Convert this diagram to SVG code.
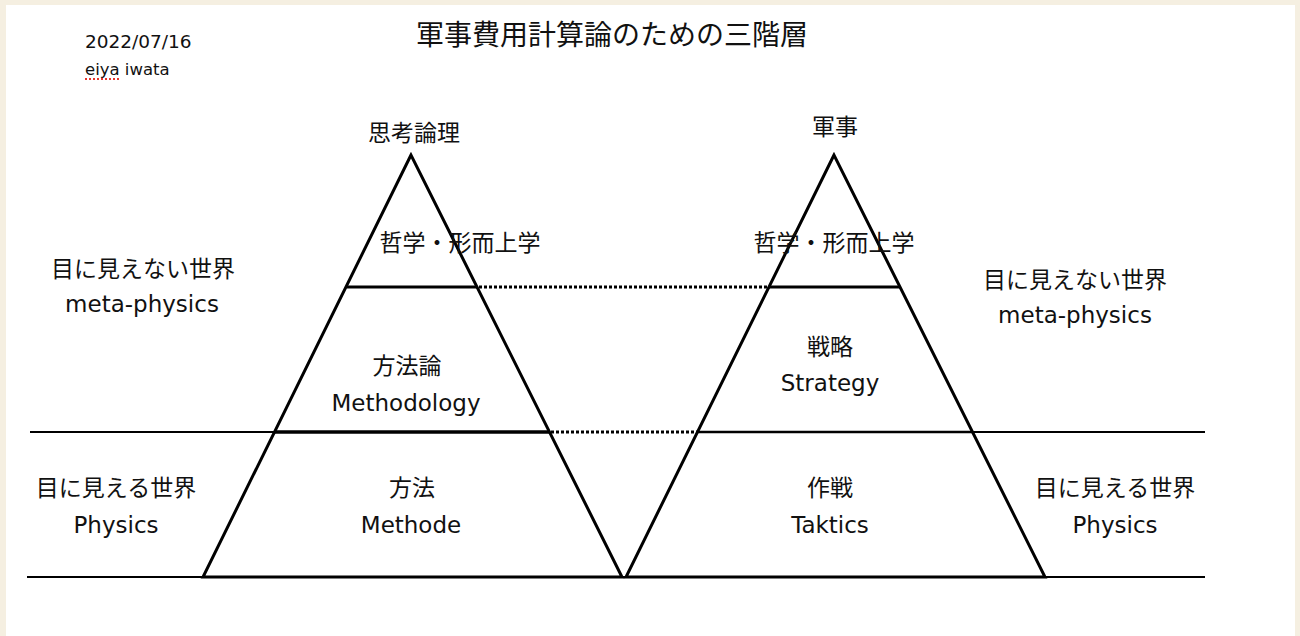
<svg xmlns="http://www.w3.org/2000/svg" width="1300" height="636" viewBox="0 0 1300 636">
<style>
.jp{font-family:"Noto Sans CJK JP","Noto Sans CJK SC",sans-serif;font-size:23px;fill:#111;text-anchor:middle}
.en{font-family:"DejaVu Sans","Liberation Sans",sans-serif;font-size:23px;fill:#111;text-anchor:middle}
.tri{fill:none;stroke:#000;stroke-width:3;stroke-linejoin:miter;stroke-miterlimit:20}
.div{stroke:#000;stroke-width:3}
.thin{stroke:#000;stroke-width:2}
.dot{stroke:#000;stroke-width:3;stroke-dasharray:3 2;fill:none}
</style>
<rect x="0" y="0" width="1300" height="636" fill="#f5efe1"/>
<rect x="6" y="5" width="1289" height="640" fill="#ffffff"/>

<g id="header">
<text x="612" y="45" class="jp" style="font-size:28px">軍事費用計算論のための三階層</text>
<text x="85" y="48" style="font-family:'DejaVu Sans','Liberation Sans',sans-serif;font-size:18.5px;fill:#111">2022/07/16</text>
<text x="85" y="75" style="font-family:'DejaVu Sans','Liberation Sans',sans-serif;font-size:16.5px;fill:#111">eiya iwata</text>
<line x1="85" y1="79" x2="120" y2="79" stroke="#e8332b" stroke-width="2" stroke-dasharray="2 2"/>
</g>

<g id="axes">
<line class="thin" x1="30" y1="432" x2="276" y2="432"/>
<line class="thin" x1="697" y1="432" x2="1205" y2="432"/>
<line class="thin" x1="27" y1="577" x2="1205" y2="577"/>
</g>

<g id="pyramid-left">
<polygon class="tri" points="411,155 203,577 622,577"/>
<line class="div" x1="347" y1="287" x2="477" y2="287"/>
<line class="div" x1="275" y1="432" x2="549" y2="432" style="stroke-width:3.5"/>
<text x="414" y="141" class="jp">思考論理</text>
<text x="460" y="251" class="jp">哲学・形而上学</text>
<text x="407" y="374" class="jp">方法論</text>
<text x="406" y="411" class="en">Methodology</text>
<text x="412" y="496" class="jp">方法</text>
<text x="411" y="533" class="en">Methode</text>
</g>

<g id="pyramid-right">
<polygon class="tri" points="834,155 626,577 1045,577"/>
<line class="div" x1="769" y1="287" x2="900" y2="287"/>
<line class="div" x1="697" y1="432" x2="972" y2="432" style="stroke-width:2.5"/>
<text x="835" y="135" class="jp">軍事</text>
<text x="834" y="251" class="jp">哲学・形而上学</text>
<text x="830" y="355" class="jp">戦略</text>
<text x="830" y="391" class="en">Strategy</text>
<text x="830" y="496" class="jp">作戦</text>
<text x="830" y="533" class="en">Taktics</text>
</g>

<g id="label-left-meta">
<text x="143" y="277" class="jp">目に見えない世界</text>
<text x="142" y="312" class="en">meta-physics</text>
</g>
<g id="label-left-phys">
<text x="116" y="496" class="jp">目に見える世界</text>
<text x="116" y="533" class="en">Physics</text>
</g>
<g id="label-right-meta">
<text x="1075" y="288" class="jp">目に見えない世界</text>
<text x="1075" y="323" class="en">meta-physics</text>
</g>
<g id="label-right-phys">
<text x="1115" y="496" class="jp">目に見える世界</text>
<text x="1115" y="533" class="en">Physics</text>
</g>

<g id="connectors">
<line class="dot" x1="479" y1="287" x2="769" y2="287"/>
<line class="dot" x1="551" y1="432" x2="697" y2="432"/>
</g>
</svg>
